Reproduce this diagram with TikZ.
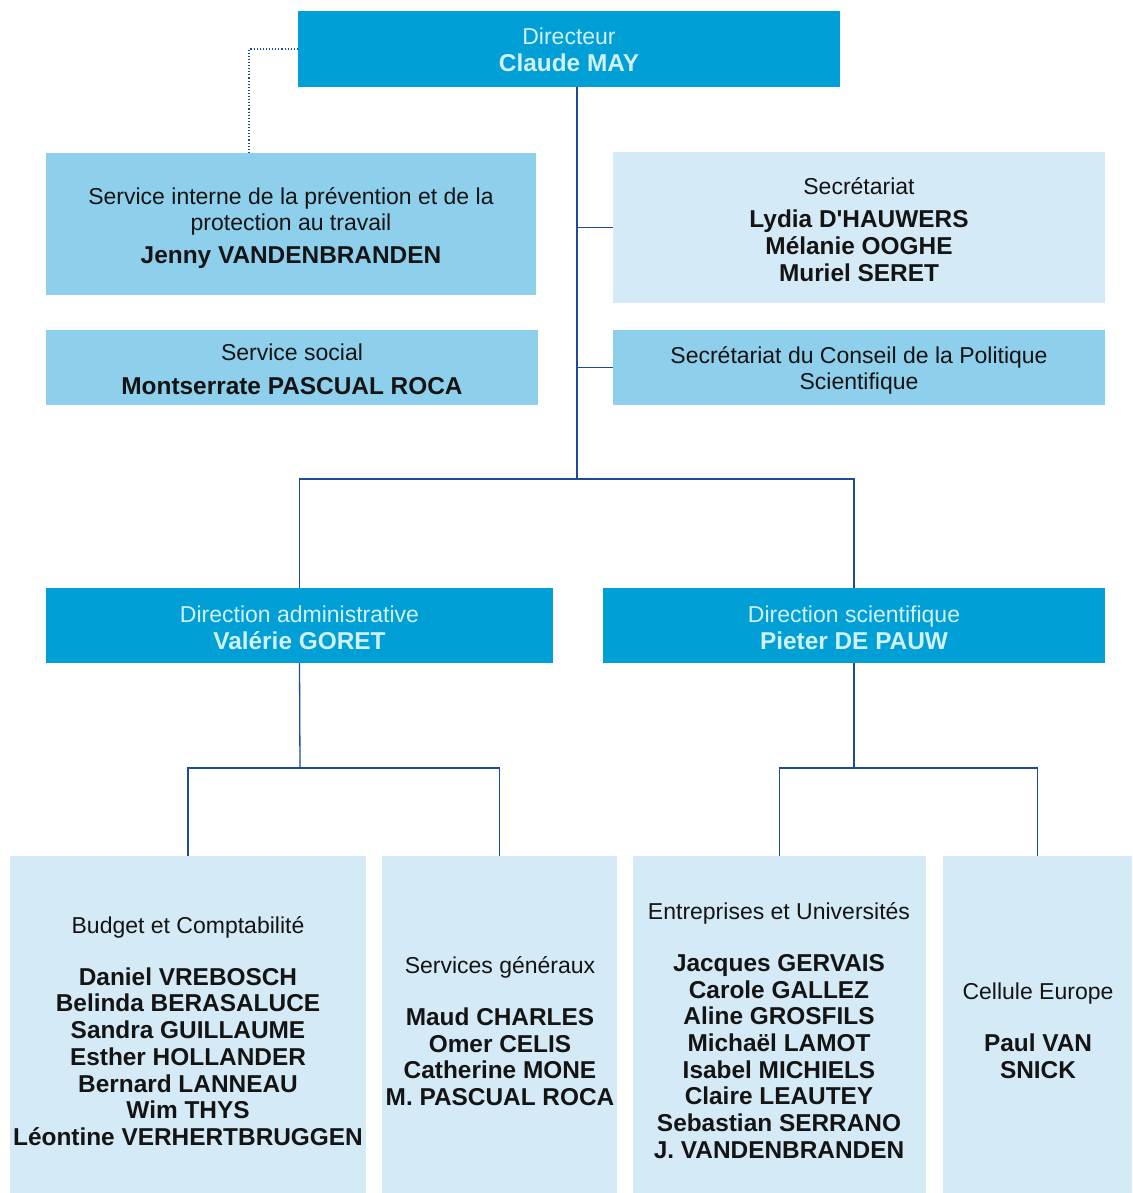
\documentclass[tikz,border=0pt]{standalone}
\usepackage{fontspec}
\setmainfont{Liberation Sans}
\definecolor{cDark}{RGB}{0,160,214}
\definecolor{cMid}{RGB}{142,207,236}
\definecolor{cLight}{RGB}{213,234,247}
\definecolor{cHead}{RGB}{208,240,250}
\definecolor{cLine}{RGB}{30,75,150}
\definecolor{cText}{RGB}{20,20,20}
\tikzset{
  box/.style={draw=none, inner sep=0pt, outer sep=0pt, anchor=north west},
  txt/.style={inner sep=0pt, outer sep=0pt, align=center, text=cText,
    font=\fontsize{23}{26.7}\selectfont},
  headtxt/.style={txt, text=cHead},
  link/.style={draw=cLine, line width=1.3pt},
  dotlink/.style={draw=cLine, line width=1.1pt, dotted},
}
\newcommand{\nm}[1]{{\bfseries\fontsize{24.4}{26.7}\selectfont #1}}
\begin{document}
\begin{tikzpicture}[x=1pt,y=-1pt]
\useasboundingbox (0,0) rectangle (1132,1193);
% boxes
\node[box, fill=cDark, minimum width=542pt, minimum height=76pt] (dir) at (298,11) {};
\node[box, fill=cMid, minimum width=490pt, minimum height=142pt] (prev) at (46,153) {};
\node[box, fill=cLight, minimum width=492pt, minimum height=151pt] (sec) at (613,152) {};
\node[box, fill=cMid, minimum width=492pt, minimum height=75pt] (soc) at (46,330) {};
\node[box, fill=cMid, minimum width=492pt, minimum height=75pt] (cons) at (613,330) {};
\node[box, fill=cDark, minimum width=507pt, minimum height=75pt] (adm) at (46,588) {};
\node[box, fill=cDark, minimum width=502pt, minimum height=75pt] (sci) at (603,588) {};
\node[box, fill=cLight, minimum width=356pt, minimum height=337pt] (bud) at (10,856) {};
\node[box, fill=cLight, minimum width=235pt, minimum height=337pt] (sg) at (382,856) {};
\node[box, fill=cLight, minimum width=293pt, minimum height=337pt] (ent) at (633,856) {};
\node[box, fill=cLight, minimum width=189pt, minimum height=337pt] (ce) at (943,856) {};
% texts
\node[headtxt] (dirT) at (569,50) {Directeur\\\nm{Claude MAY}};
\node[txt] (prevT) at (291,228) {Service interne de la prévention et de la\\protection au travail\\[6.3pt]\nm{Jenny VANDENBRANDEN}};
\node[txt] (secT) at (859,229.5) {Secrétariat\\[6.3pt]\nm{Lydia D\textquotesingle HAUWERS}\\\nm{Mélanie OOGHE}\\\nm{Muriel SERET}};
\node[txt] (socT) at (292,369) {Service social\\[7.3pt]\nm{Montserrate PASCUAL ROCA}};
\node[txt] (consT) at (859,370.5) {Secrétariat du Conseil de la Politique\\Scientifique};
\node[headtxt] (admT) at (299.5,628) {Direction administrative\\\nm{Valérie GORET}};
\node[headtxt] (sciT) at (854,628) {Direction scientifique\\\nm{Pieter DE PAUW}};
\node[txt] (budT) at (188,1031) {Budget et Comptabilité\\[25.3pt]\nm{Daniel VREBOSCH}\\\nm{Belinda BERASALUCE}\\\nm{Sandra GUILLAUME}\\\nm{Esther HOLLANDER}\\\nm{Bernard LANNEAU}\\\nm{Wim THYS}\\\nm{Léontine VERHERTBRUGGEN}};
\node[txt] (sgT) at (500,1031) {Services généraux\\[25.3pt]\nm{Maud CHARLES}\\\nm{Omer CELIS}\\\nm{Catherine MONE}\\\nm{M. PASCUAL ROCA}};
\node[txt] (entT) at (779,1030.5) {Entreprises et Universités\\[25.3pt]\nm{Jacques GERVAIS}\\\nm{Carole GALLEZ}\\\nm{Aline GROSFILS}\\\nm{Michaël LAMOT}\\\nm{Isabel MICHIELS}\\\nm{Claire LEAUTEY}\\\nm{Sebastian SERRANO}\\\nm{J. VANDENBRANDEN}};
\node[txt] (ceT) at (1038,1030.5) {Cellule Europe\\[25.3pt]\nm{Paul VAN}\\\nm{SNICK}};
% junction coordinates
\coordinate (j1) at (577,479);
\coordinate (j2) at (300,768);
\coordinate (j3) at (854,768);
\coordinate (dc) at (249,49);
% connectors
\draw[link] (dir.south -| j1) -- (j1);
\draw[link] (sec.west -| j1) -- (sec.west);
\draw[link] (cons.west -| j1) -- (cons.west);
\draw[link] (adm.north) -- (adm.north |- j1) -- (sci.north |- j1) -- (sci.north);
\draw[link] (adm.south) -- (j2);
\draw[link] (bud.north) -- (bud.north |- j2) -- (sg.north |- j2) -- (sg.north);
\draw[link] (sci.south) -- (j3);
\draw[link] (ent.north) -- (ent.north |- j3) -- (ce.north |- j3) -- (ce.north);
\draw[dotlink] (dir.west) -- (dc) -- (dc |- prev.north);
\end{tikzpicture}
\end{document}
